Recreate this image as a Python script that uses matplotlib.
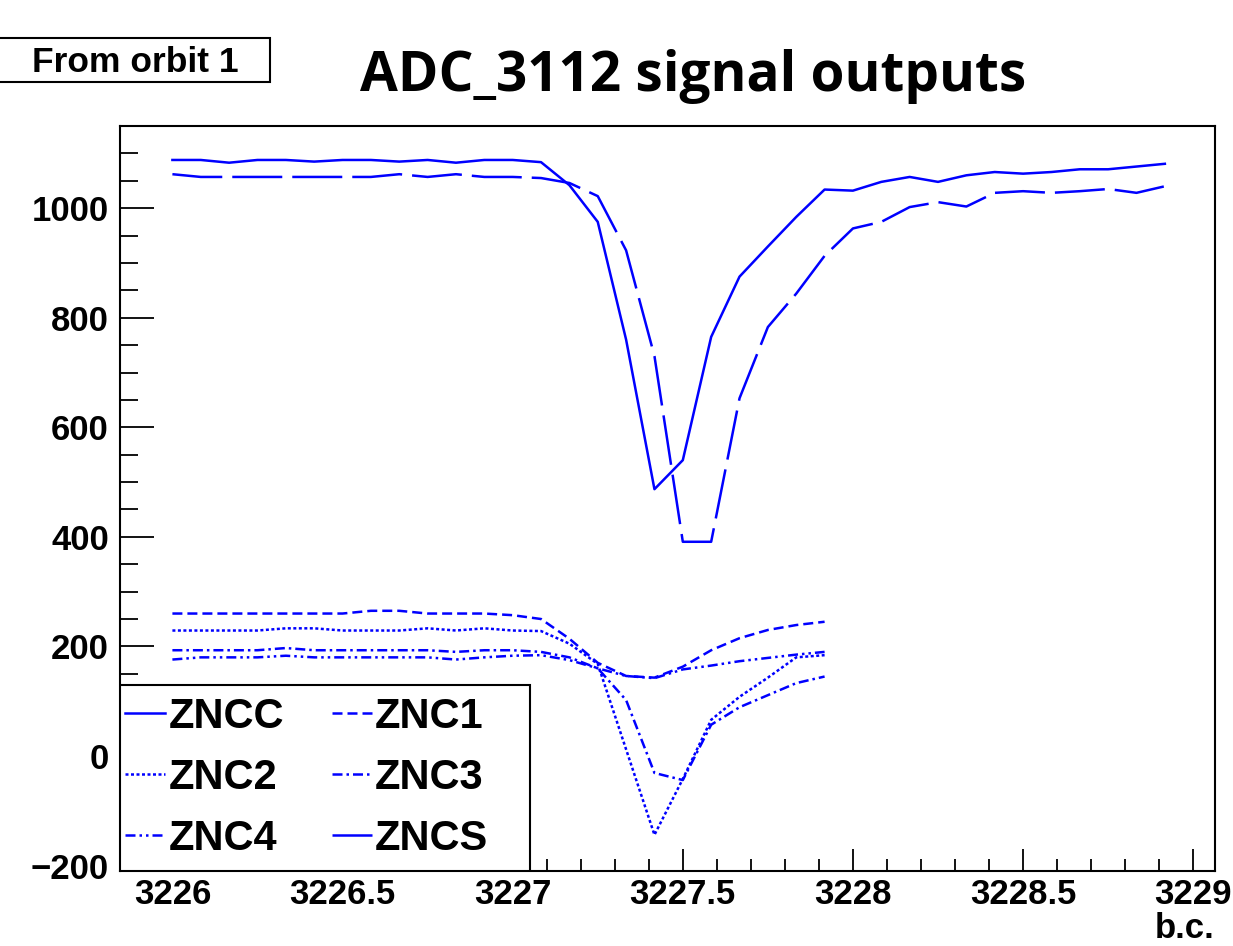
import matplotlib
matplotlib.use("Agg")
import matplotlib.pyplot as plt
import matplotlib.patches as patches
from matplotlib.ticker import MultipleLocator, FuncFormatter
import numpy as np

# ADC samples, 12 samples per bunch crossing, starting at b.c. 3226
first_bc = 3226
samples_per_bc = 12

zncc = [1088, 1088, 1083, 1088, 1088, 1085, 1088, 1088, 1085, 1088, 1083, 1088,
        1088, 1084, 1042, 975, 760, 487, 540, 765, 875, 930, 984, 1034,
        1032, 1048, 1057, 1048, 1060, 1066, 1063, 1066, 1071, 1071, 1076, 1081]
zncs = [1062, 1057, 1057, 1057, 1057, 1057, 1057, 1057, 1062, 1057, 1062, 1057,
        1057, 1055, 1046, 1022, 923, 730, 391, 391, 653, 783, 844, 913,
        963, 975, 1002, 1011, 1003, 1028, 1031, 1028, 1031, 1035, 1028, 1040]
znc1 = [260, 260, 260, 260, 260, 260, 260, 265, 265, 260, 260, 260,
        257, 250, 214, 170, 146, 143, 163, 193, 215, 230, 239, 245]
znc2 = [229, 229, 229, 229, 233, 233, 229, 229, 229, 233, 229, 233,
        229, 228, 205, 168, 12, -144, -42, 66, 108, 143, 180, 184]
znc3 = [193, 193, 193, 193, 197, 193, 193, 193, 193, 193, 190, 193,
        193, 190, 180, 160, 102, -31, -44, 57, 89, 111, 133, 145]
znc4 = [176, 180, 180, 180, 183, 180, 180, 180, 180, 180, 176, 180,
        183, 184, 175, 160, 146, 142, 158, 165, 173, 179, 185, 190]

x_ticks = [3226, 3226.5, 3227, 3227.5, 3228, 3228.5, 3229]
y_ticks = [-200, 0, 200, 400, 600, 800, 1000]

def bc_axis(values):
    return first_bc + np.arange(len(values)) / samples_per_bc

BLUE = "#0000ff"
LW = 1.8
styles = {
    "ZNCC": "-",
    "ZNC1": (0, (4, 2)),
    "ZNC2": (0, (1.2, 1.0)),
    "ZNC3": (0, (4, 1.6, 1, 1.6)),
    "ZNC4": (0, (4, 1.6, 1, 1.6, 1, 1.6)),
    "ZNCS": (0, (20, 4)),
}
series = {"ZNCC": zncc, "ZNC1": znc1, "ZNC2": znc2,
          "ZNC3": znc3, "ZNC4": znc4, "ZNCS": zncs}

plt.rcParams["font.family"] = ["Liberation Sans", "DejaVu Sans"]
plt.rcParams["font.weight"] = "bold"

W, H = 1233, 946
fig = plt.figure(figsize=(W / 100, H / 100), dpi=100)
ax = fig.add_axes([120 / W, 1 - 871 / H, 1095 / W, 745 / H])

lines = {}
for name, vals in series.items():
    ln, = ax.plot(bc_axis(vals), vals, color=BLUE, lw=LW, ls=styles[name],
                  label=name, zorder=3)
    lines[name] = ln

ax.set_xlim(3225.846, 3229.064)
ax.set_ylim(-210, 1150)
ax.set_xticks(x_ticks)
ax.set_yticks(y_ticks)
ax.xaxis.set_minor_locator(MultipleLocator(0.1))
ax.yaxis.set_minor_locator(MultipleLocator(50))
ax.xaxis.set_major_formatter(FuncFormatter(lambda v, p: f"{v:g}"))
ax.yaxis.set_major_formatter(FuncFormatter(lambda v, p: f"{v:g}".replace("-", "\u2212")))

ax.tick_params(axis="both", which="both", direction="in", colors="black",
               labelsize=25, width=1.3)
ax.tick_params(axis="y", which="major", length=24.5, pad=8)
ax.tick_params(axis="y", which="minor", length=12.6)
ax.tick_params(axis="x", which="major", length=16, pad=5)
ax.tick_params(axis="x", which="minor", length=9)
for lab in ax.get_xticklabels() + ax.get_yticklabels():
    lab.set_fontweight("bold")
for sp in ax.spines.values():
    sp.set_linewidth(1.5)

# legend box (ROOT style, attached to lower-left corner of frame)
box = patches.Rectangle((0, 0), 410 / 1095, 186 / 745, transform=ax.transAxes,
                        facecolor="white", edgecolor="black", lw=1.5, zorder=4)
ax.add_patch(box)
order = ["ZNCC", "ZNC2", "ZNC4", "ZNC1", "ZNC3", "ZNCS"]
leg = ax.legend([lines[n] for n in order], order, ncol=2, frameon=False,
                loc="upper left", bbox_to_anchor=(5 / 1095, 174 / 745),
                borderpad=0, borderaxespad=0, handlelength=0.96,
                handletextpad=0.08, columnspacing=1.15, labelspacing=0.5,
                prop={"family": "Liberation Sans", "weight": "bold", "size": 30})
leg.set_zorder(5)

ax.text(1.0, -67 / 745, "b.c.", transform=ax.transAxes, ha="right",
        va="baseline", fontsize=25, fontweight="bold")

# header items
fig.text(693 / W, 1 - 91 / H, "ADC_3112 signal outputs", ha="center",
         va="baseline", fontsize=39.5, fontweight="bold", family="Open Sans")
fig.patches.append(patches.Rectangle((-2 / W, 1 - 82 / H), 272 / W, 44 / H,
                                     transform=fig.transFigure, facecolor="white",
                                     edgecolor="black", lw=1.5))
fig.text(135 / W, 1 - 72 / H, "From orbit 1", ha="center", va="baseline",
         fontsize=25.5, fontweight="bold")

fig.savefig("out.png", dpi=100)
